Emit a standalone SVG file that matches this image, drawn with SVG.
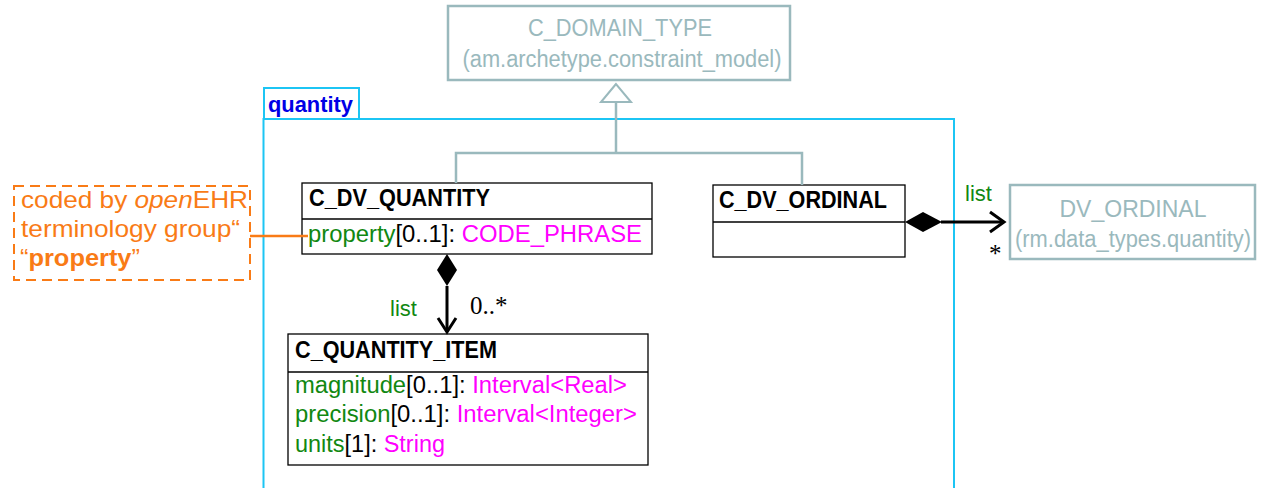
<svg xmlns="http://www.w3.org/2000/svg" width="1263" height="488" viewBox="0 0 1263 488">
<style>
.ext{fill:#fff;stroke:#9ab9bd;stroke-width:2.5}
.extt{fill:#9ab9bd;font-family:"Liberation Sans",Arial,sans-serif;font-size:23px;text-anchor:middle}
.cls{fill:#fff;stroke:#000;stroke-width:1.3}
.ttl{font-family:"Liberation Sans",Arial,sans-serif;font-weight:bold;font-size:23px;fill:#000}
.att{font-family:"Liberation Sans",Arial,sans-serif;font-size:23px;fill:#000}
.g{fill:#118811}.m{fill:#ff00ff}
.pkg{fill:none;stroke:#1cc5f4;stroke-width:2}
.gen{fill:none;stroke:#9ab9bd;stroke-width:2.5}
.comp{fill:none;stroke:#000;stroke-width:3}
.lbl{font-family:"Liberation Sans",Arial,sans-serif;font-size:22px;fill:#118811}
.mult{font-family:"Liberation Serif","Times New Roman",serif;font-size:25px;fill:#000}
.note{font-family:"Liberation Sans",Arial,sans-serif;font-size:24px;fill:#f97b16}
</style>
<g id="package_quantity">
<rect class="pkg" x="264" y="88" width="95" height="31"/>
<rect class="pkg" x="263.5" y="119" width="690.5" height="380"/>
<text x="268" y="112" font-family="'Liberation Sans',Arial,sans-serif" font-weight="bold" font-size="22px" fill="#0000e6" textLength="85" lengthAdjust="spacingAndGlyphs">quantity</text>
</g>
<g id="C_DOMAIN_TYPE">
<rect class="ext" x="448" y="6" width="342" height="74"/>
<text class="extt" x="620" y="36" textLength="184" lengthAdjust="spacingAndGlyphs">C_DOMAIN_TYPE</text>
<text class="extt" x="622" y="67" textLength="319" lengthAdjust="spacingAndGlyphs">(am.archetype.constraint_model)</text>
</g>
<g id="DV_ORDINAL">
<rect class="ext" x="1010" y="185" width="245" height="74"/>
<text class="extt" x="1133" y="217">DV_ORDINAL</text>
<text class="extt" x="1133" y="247" textLength="236" lengthAdjust="spacingAndGlyphs">(rm.data_types.quantity)</text>
</g>
<g id="C_DV_QUANTITY">
<rect class="cls" x="302" y="183" width="350" height="71"/>
<line x1="302" y1="219" x2="652" y2="219" stroke="#000" stroke-width="1.3"/>
<text class="ttl" x="309" y="206" textLength="181" lengthAdjust="spacingAndGlyphs">C_DV_QUANTITY</text>
<text class="att" x="308" y="242" textLength="334" lengthAdjust="spacingAndGlyphs"><tspan class="g">property</tspan>[0..1]: <tspan class="m">CODE_PHRASE</tspan></text>
</g>
<g id="C_DV_ORDINAL">
<rect class="cls" x="713" y="185" width="192" height="72"/>
<line x1="713" y1="222" x2="905" y2="222" stroke="#000" stroke-width="1.3"/>
<text class="ttl" x="719" y="208" textLength="168" lengthAdjust="spacingAndGlyphs">C_DV_ORDINAL</text>
</g>
<g id="C_QUANTITY_ITEM">
<rect class="cls" x="288" y="334" width="360" height="131"/>
<line x1="288" y1="372" x2="648" y2="372" stroke="#000" stroke-width="1.3"/>
<text class="ttl" x="295" y="358" textLength="202" lengthAdjust="spacingAndGlyphs">C_QUANTITY_ITEM</text>
<text class="att" x="295" y="393" textLength="332" lengthAdjust="spacingAndGlyphs"><tspan class="g">magnitude</tspan>[0..1]: <tspan class="m">Interval&lt;Real&gt;</tspan></text>
<text class="att" x="295" y="422" textLength="342" lengthAdjust="spacingAndGlyphs"><tspan class="g">precision</tspan>[0..1]: <tspan class="m">Interval&lt;Integer&gt;</tspan></text>
<text class="att" x="295" y="452" textLength="150" lengthAdjust="spacingAndGlyphs"><tspan class="g">units</tspan>[1]: <tspan class="m">String</tspan></text>
</g>
<g id="note_property">
<rect x="14" y="186" width="236" height="94" fill="none" stroke="#f97b16" stroke-width="2" stroke-dasharray="10,6"/>
<text class="note" x="21" y="208" textLength="227" lengthAdjust="spacingAndGlyphs">coded by <tspan font-style="italic">open</tspan>EHR</text>
<text class="note" x="21" y="237" textLength="219" lengthAdjust="spacingAndGlyphs">terminology group“</text>
<text class="note" x="20" y="266" textLength="120" lengthAdjust="spacingAndGlyphs">“<tspan font-weight="bold">property</tspan>”</text>
</g>
<g id="connectors">
<polygon points="616,84 601,102 631,102" fill="#fff" stroke="#9ab9bd" stroke-width="2"/>
<polyline class="gen" points="616,102 616,153"/>
<polyline class="gen" points="456,183 456,153 802,153 802,185"/>
<line x1="250" y1="236" x2="308" y2="236" stroke="#f97b16" stroke-width="2.5"/>
<polygon points="447,254 457,270 447,286 437,270" fill="#000"/>
<line class="comp" x1="447" y1="286" x2="447" y2="332"/>
<polyline class="comp" points="438,318 447,332 456,318"/>
<text class="lbl" x="390" y="316">list</text>
<text class="mult" x="470" y="314">0..*</text>
<polygon points="905,222 923,212 942,222 923,232" fill="#000"/>
<line class="comp" x1="941" y1="222" x2="1004" y2="222"/>
<polyline class="comp" points="990,212 1004,222 990,232"/>
<text class="lbl" x="965" y="201">list</text>
<text class="mult" x="989" y="262">*</text>
</g>
</svg>
